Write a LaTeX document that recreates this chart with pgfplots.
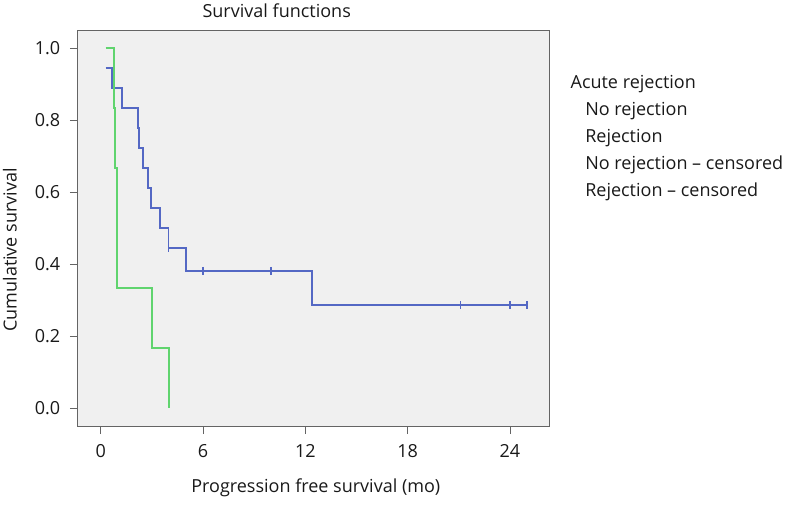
\documentclass[border=0pt]{standalone}
\usepackage{fontspec}
\setmainfont{Open Sans}
\usepackage{pgfplots}
\pgfplotsset{compat=1.18}
\definecolor{kmblue}{RGB}{84,104,196}
\definecolor{kmgreen}{RGB}{96,212,110}
\definecolor{bggray}{RGB}{240,240,240}
\definecolor{framegray}{RGB}{100,100,100}
\begin{document}
\begin{tikzpicture}[x=1pt,y=1pt]
\path[use as bounding box] (0,0) rectangle (595.5,378.75);
\begin{axis}[
  at={(57.98pt,58.73pt)}, anchor=south west,
  scale only axis, width=353.8pt, height=296.8pt,
  xmin=-1.37, xmax=26.29, ymin=-0.052, ymax=1.048,
  xtick={0,6,12,18,24}, ytick={0,0.2,0.4,0.6,0.8,1.0},
  tick pos=left, tick align=outside,
  major tick length=5.6pt,
  axis background/.style={fill=bggray},
  axis line style={framegray, line width=0.8pt},
  tick style={framegray, line width=0.6pt},
  /pgf/number format/assume math mode=true,
  tick label style={font=\fontsize{13.5}{16}\selectfont, text=black!90},
  xticklabel style={yshift=-4.5pt},
  yticklabel style={xshift=-3.75pt, /pgf/number format/.cd, fixed, fixed zerofill, precision=1},
  label style={font=\fontsize{13.5}{16}\selectfont, text=black!90},
  title={Survival functions},
  title style={font=\fontsize{13.5}{16}\selectfont, text=black!90, at={(axis description cs:0.4227,1)}, anchor=base, yshift=3.75pt},
  xlabel={Progression free survival (mo)},
  xlabel style={at={(axis description cs:0.5056,-0.155)}, anchor=center},
  ylabel={Cumulative survival},
  ylabel style={at={(axis description cs:-0.1427,0.4466)}, anchor=center},
  legend cell align=left,
  legend style={at={(axis description cs:1.0763,0.8855)}, anchor=north west,
    draw=none, fill=none, inner sep=0pt, row sep=11.25pt,
    font=\fontsize{13.5}{16}\selectfont,
    nodes={inner sep=0pt, text height=9pt, text depth=0pt, text=black!90}},
]
\addlegendimage{empty legend}
\addlegendentry{\hspace*{-11pt}Acute rejection}
\addplot[const plot, kmblue, line width=1.3pt, legend image code/.code={}] coordinates {
  (0.29,0.944) (0.68,0.889) (1.27,0.833) (2.17,0.778) (2.25,0.722)
  (2.48,0.667) (2.79,0.611) (2.95,0.556) (3.48,0.500) (3.98,0.444)
  (5.00,0.381) (12.41,0.286) (25.00,0.286)
};
\addlegendentry{No rejection}
\addplot[const plot, kmgreen, line width=1.3pt, legend image code/.code={}] coordinates {
  (0.29,1.000) (0.78,0.833) (0.84,0.667) (0.97,0.333) (2.99,0.167) (4.00,0.000)
};
\addlegendentry{Rejection}
\addplot[only marks, mark=|, mark size=3pt, kmblue, mark options={line width=1.2pt}, legend image code/.code={}] coordinates {
  (3.98,0.444) (6.0,0.381) (10.0,0.381) (21.1,0.286) (24.0,0.286) (25.0,0.286)
};
\addlegendentry{No rejection -- censored}
\addlegendimage{only marks, mark=|, kmgreen, legend image code/.code={}}
\addlegendentry{Rejection -- censored}
\end{axis}
\end{tikzpicture}
\end{document}
